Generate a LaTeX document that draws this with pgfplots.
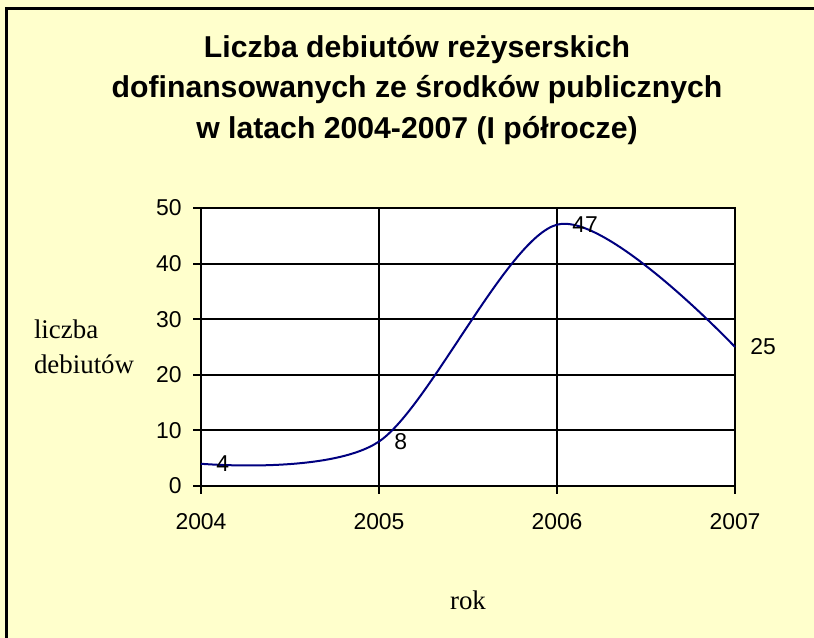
\documentclass[border=0pt]{standalone}
\usepackage{fontspec}
\setmainfont{Liberation Sans}
\newfontfamily\seriffont{Liberation Serif}
\usepackage{pgfplots}
\pgfplotsset{compat=1.18}
\definecolor{bgyellow}{HTML}{FFFFCC}
\definecolor{navyline}{HTML}{000080}
\begin{document}
\begin{tikzpicture}[x=1bp,y=1bp]
\useasboundingbox (0,0) rectangle (814,638);
\fill[bgyellow] (0,0) rectangle (814,638);
\draw[line width=3bp] (6,-5) -- (6,629.5) -- (820,629.5);
\node[font=\fontsize{30.3}{41}\selectfont\bfseries, align=center] at (417,548)
  {Liczba debiutów reżyserskich\\dofinansowanych ze środków publicznych\\w latach 2004-2007 (I półrocze)};
\begin{axis}[
  at={(201bp,152bp)}, anchor=south west,
  scale only axis, width=534bp, height=278bp,
  xmin=2004, xmax=2007, ymin=0, ymax=50,
  xtick={2004,2005,2006,2007}, ytick={0,10,20,30,40,50},
  /pgf/number format/assume math mode=true,
  xticklabel style={/pgf/number format/1000 sep={}},
  tick pos=left, tick align=outside, major tick length=8bp,
  tick style={black, line width=2bp},
  grid=major, major grid style={black, line width=2bp},
  axis line style={black, line width=2bp},
  axis background/.style={fill=white},
  ticklabel style={font=\fontsize{23}{26}\selectfont},
  xticklabel style={yshift=-16bp},
  yticklabel style={xshift=-8bp},
  xlabel={rok},
  xlabel style={font=\seriffont\fontsize{27}{30}\selectfont, at={(axis description cs:0.5,-0.41)}, anchor=center},
  ylabel={liczba\\debiutów},
  ylabel style={font=\seriffont\fontsize{27}{35}\selectfont, rotate=-90, align=left, at={(axis description cs:-0.219,0.5)}, anchor=center},
  clip=false,
]
\addplot[navyline, line width=2bp, smooth, tension=0.5, mark=none,
  nodes near coords,
  nodes near coords style={anchor=west, xshift=11bp, font=\fontsize{23}{26}\selectfont, text=black}]
  coordinates {(2004,4) (2005,8) (2006,47) (2007,25)};
\end{axis}
\end{tikzpicture}
\end{document}
